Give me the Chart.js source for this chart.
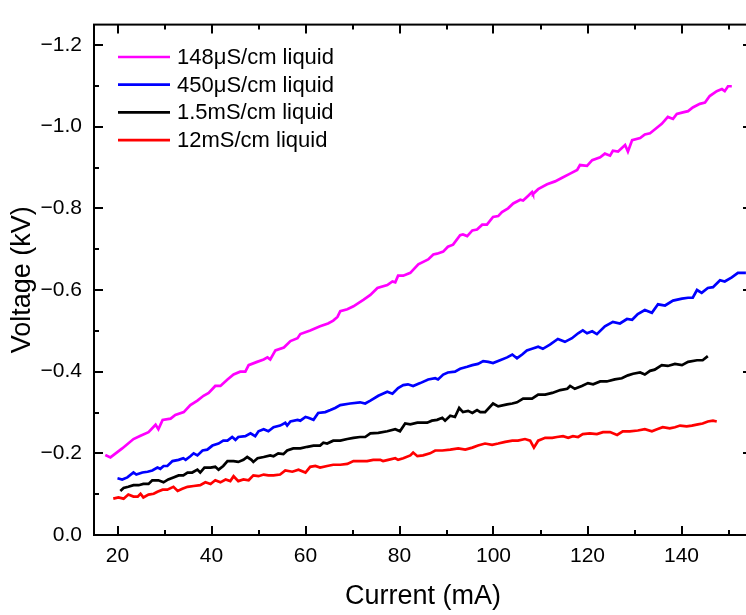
<!DOCTYPE html>
<html>
<head>
<meta charset="utf-8">
<script src="https://cdn.jsdelivr.net/npm/chart.js@4.4.1/dist/chart.umd.min.js"></script>
<style>
    html, body { margin: 0; padding: 0; background: #fff; overflow: hidden; }
    #wrap { width: 760px; height: 615px; }
</style>
</head>
<body>
<div id="wrap"><canvas id="chart" width="760" height="615"></canvas></div>
<script>
// Series data (current in mA, voltage in kV)
const labels = ['148μS/cm liquid', '450μS/cm liquid', '1.5mS/cm liquid', '12mS/cm liquid'];
const colors = ['#ff00ff', '#0000ff', '#000000', '#ff0000'];

const magentaCurrent = [17.4, 18.5, 21.0, 23.4, 24.9, 26.6, 28.1, 28.7, 29.6, 31.3, 32.3, 34.1, 35.5, 37.0, 38.3, 39.4, 40.8, 41.9, 43.4, 44.7, 46.1, 47.2, 47.9, 49.7, 51.1, 51.9, 52.5, 53.6, 55.4, 56.8, 58.3, 58.9, 61.0, 63.1, 64.8, 65.9, 66.8, 67.4, 68.9, 70.2, 72.3, 73.8, 75.3, 77.4, 78.5, 79.1, 79.7, 80.8, 82.3, 84.0, 86.1, 87.2, 88.0, 89.3, 90.3, 91.4, 92.9, 93.5, 94.4, 95.5, 96.5, 97.6, 98.6, 99.9, 101.0, 101.8, 103.1, 104.2, 105.7, 106.3, 107.4, 108.2, 108.4, 109.5, 111.4, 113.1, 114.6, 116.3, 117.8, 118.4, 119.9, 121.0, 122.7, 123.7, 124.8, 125.4, 126.5, 128.0, 128.6, 129.5, 131.2, 132.2, 133.3, 134.3, 135.8, 137.1, 138.2, 139.0, 140.3, 141.4, 142.4, 143.9, 145.0, 146.0, 147.5, 148.6, 149.2, 149.9, 150.7];
const magentaVoltage = [-0.196, -0.190, -0.212, -0.235, -0.243, -0.252, -0.270, -0.259, -0.282, -0.285, -0.294, -0.301, -0.318, -0.329, -0.341, -0.348, -0.365, -0.365, -0.381, -0.393, -0.400, -0.400, -0.416, -0.424, -0.430, -0.435, -0.430, -0.452, -0.459, -0.475, -0.482, -0.492, -0.501, -0.511, -0.518, -0.525, -0.534, -0.548, -0.553, -0.560, -0.576, -0.588, -0.605, -0.612, -0.621, -0.619, -0.635, -0.635, -0.642, -0.663, -0.675, -0.687, -0.689, -0.694, -0.706, -0.711, -0.734, -0.736, -0.732, -0.746, -0.748, -0.760, -0.760, -0.779, -0.781, -0.791, -0.800, -0.812, -0.821, -0.819, -0.831, -0.840, -0.835, -0.847, -0.859, -0.866, -0.875, -0.885, -0.894, -0.906, -0.904, -0.918, -0.925, -0.934, -0.929, -0.941, -0.939, -0.955, -0.939, -0.967, -0.972, -0.981, -0.984, -0.993, -1.007, -1.024, -1.019, -1.031, -1.035, -1.038, -1.047, -1.056, -1.059, -1.075, -1.087, -1.092, -1.087, -1.099, -1.099];

const blueCurrent = [20.0, 21.0, 22.1, 23.4, 24.0, 25.3, 26.4, 27.4, 28.5, 29.1, 29.8, 30.6, 31.7, 33.0, 34.0, 34.5, 35.5, 36.2, 37.0, 38.1, 39.1, 40.2, 41.5, 42.5, 43.4, 44.4, 45.1, 45.7, 47.2, 48.3, 49.3, 50.0, 51.1, 52.1, 53.2, 54.6, 55.7, 56.1, 56.8, 58.3, 58.9, 60.0, 60.6, 61.7, 62.7, 64.2, 65.3, 66.3, 67.4, 69.5, 71.6, 72.7, 73.8, 75.5, 77.4, 78.5, 79.7, 80.8, 81.8, 82.9, 84.4, 86.1, 87.6, 88.2, 89.3, 90.3, 91.8, 92.9, 94.4, 95.5, 96.7, 97.8, 98.9, 99.9, 101.4, 102.9, 104.0, 105.0, 106.1, 107.1, 108.2, 109.5, 110.5, 112.0, 113.7, 115.2, 116.7, 118.0, 119.0, 119.9, 121.0, 122.0, 123.7, 125.4, 126.9, 128.4, 129.5, 130.7, 132.2, 133.7, 135.0, 136.5, 138.2, 140.1, 141.4, 142.4, 143.3, 144.3, 145.6, 146.7, 148.2, 149.2, 150.7, 152.0, 153.7];
const blueVoltage = [-0.139, -0.136, -0.141, -0.153, -0.148, -0.153, -0.155, -0.158, -0.165, -0.162, -0.169, -0.169, -0.181, -0.184, -0.188, -0.184, -0.193, -0.200, -0.195, -0.207, -0.209, -0.219, -0.224, -0.231, -0.231, -0.240, -0.233, -0.240, -0.242, -0.249, -0.242, -0.254, -0.259, -0.254, -0.264, -0.268, -0.275, -0.268, -0.278, -0.282, -0.280, -0.289, -0.287, -0.282, -0.299, -0.301, -0.306, -0.311, -0.318, -0.322, -0.325, -0.322, -0.329, -0.341, -0.351, -0.346, -0.360, -0.367, -0.369, -0.365, -0.372, -0.381, -0.384, -0.381, -0.393, -0.398, -0.400, -0.407, -0.412, -0.416, -0.419, -0.426, -0.424, -0.421, -0.428, -0.435, -0.442, -0.433, -0.442, -0.452, -0.456, -0.461, -0.456, -0.466, -0.480, -0.473, -0.482, -0.494, -0.501, -0.494, -0.499, -0.492, -0.511, -0.522, -0.518, -0.529, -0.527, -0.541, -0.551, -0.544, -0.565, -0.562, -0.574, -0.579, -0.581, -0.581, -0.600, -0.593, -0.605, -0.607, -0.624, -0.621, -0.631, -0.642, -0.642];

const blackCurrent = [20.6, 21.3, 22.3, 23.4, 24.5, 25.5, 26.6, 27.4, 28.7, 29.8, 30.8, 31.9, 33.0, 34.0, 34.9, 35.9, 37.0, 37.6, 38.5, 39.8, 40.8, 41.5, 42.5, 43.4, 44.7, 45.7, 46.8, 47.6, 48.5, 48.9, 49.8, 51.1, 52.5, 53.2, 54.2, 55.3, 56.1, 57.4, 58.9, 60.4, 61.7, 63.1, 63.8, 64.6, 65.9, 67.4, 68.9, 70.2, 71.6, 72.7, 73.8, 75.5, 77.4, 79.1, 80.1, 81.2, 82.3, 83.8, 84.8, 85.9, 86.9, 88.0, 89.1, 89.7, 90.8, 91.8, 92.7, 93.5, 94.6, 95.5, 96.5, 97.2, 98.2, 99.9, 101.0, 102.9, 104.0, 105.0, 106.3, 108.2, 109.5, 111.0, 112.5, 114.2, 115.7, 116.3, 117.3, 118.8, 120.1, 121.2, 122.7, 124.1, 125.8, 127.3, 128.6, 129.7, 131.2, 132.2, 133.3, 134.3, 135.8, 137.1, 138.6, 140.1, 141.4, 143.3, 144.5, 145.6];
const blackVoltage = [-0.108, -0.115, -0.118, -0.122, -0.122, -0.125, -0.125, -0.134, -0.134, -0.129, -0.136, -0.141, -0.146, -0.146, -0.153, -0.153, -0.160, -0.153, -0.165, -0.165, -0.167, -0.160, -0.169, -0.181, -0.181, -0.179, -0.184, -0.191, -0.184, -0.179, -0.188, -0.191, -0.195, -0.193, -0.200, -0.198, -0.207, -0.212, -0.212, -0.216, -0.219, -0.219, -0.226, -0.224, -0.231, -0.231, -0.235, -0.238, -0.240, -0.240, -0.249, -0.250, -0.254, -0.259, -0.254, -0.273, -0.271, -0.275, -0.275, -0.275, -0.280, -0.282, -0.287, -0.280, -0.292, -0.289, -0.311, -0.301, -0.304, -0.299, -0.306, -0.301, -0.301, -0.322, -0.315, -0.320, -0.322, -0.325, -0.334, -0.334, -0.344, -0.344, -0.348, -0.355, -0.358, -0.365, -0.358, -0.365, -0.372, -0.369, -0.376, -0.376, -0.381, -0.384, -0.391, -0.395, -0.398, -0.393, -0.402, -0.405, -0.416, -0.414, -0.419, -0.416, -0.424, -0.428, -0.428, -0.438];

const redCurrent = [19.1, 20.2, 21.3, 22.3, 23.4, 24.3, 24.9, 25.5, 26.6, 27.7, 28.5, 29.6, 30.6, 31.9, 32.8, 33.8, 34.9, 36.2, 37.6, 38.7, 39.8, 40.8, 41.9, 43.0, 44.0, 44.7, 45.7, 46.8, 47.9, 48.9, 50.0, 51.1, 52.1, 53.2, 54.6, 55.7, 57.2, 58.5, 60.0, 61.0, 62.1, 63.1, 64.6, 65.9, 67.4, 68.9, 70.2, 71.6, 73.1, 74.4, 75.9, 76.5, 77.6, 79.1, 79.7, 80.8, 82.3, 82.9, 83.8, 85.0, 86.5, 87.6, 89.1, 90.8, 92.5, 94.0, 95.5, 96.7, 98.2, 99.7, 101.0, 102.5, 104.0, 105.2, 106.7, 107.8, 108.6, 109.5, 111.0, 112.5, 113.5, 114.8, 115.9, 116.9, 118.0, 119.0, 120.5, 122.0, 123.3, 124.8, 126.3, 127.5, 129.0, 130.7, 132.2, 133.7, 134.8, 136.0, 137.5, 138.6, 139.7, 141.1, 142.2, 143.5, 144.5, 145.6, 146.7, 147.5];
const redVoltage = [-0.089, -0.092, -0.089, -0.099, -0.094, -0.094, -0.101, -0.092, -0.099, -0.101, -0.106, -0.111, -0.111, -0.118, -0.108, -0.113, -0.118, -0.120, -0.122, -0.129, -0.125, -0.134, -0.129, -0.136, -0.132, -0.144, -0.132, -0.136, -0.134, -0.146, -0.144, -0.148, -0.146, -0.146, -0.148, -0.158, -0.155, -0.160, -0.153, -0.167, -0.169, -0.165, -0.169, -0.172, -0.172, -0.174, -0.181, -0.181, -0.181, -0.184, -0.184, -0.181, -0.184, -0.188, -0.184, -0.188, -0.195, -0.202, -0.193, -0.195, -0.200, -0.207, -0.207, -0.209, -0.212, -0.209, -0.214, -0.219, -0.224, -0.221, -0.224, -0.228, -0.231, -0.231, -0.235, -0.231, -0.214, -0.231, -0.238, -0.238, -0.240, -0.242, -0.238, -0.242, -0.240, -0.247, -0.249, -0.247, -0.252, -0.252, -0.245, -0.254, -0.254, -0.256, -0.259, -0.254, -0.259, -0.264, -0.261, -0.264, -0.268, -0.266, -0.268, -0.271, -0.273, -0.278, -0.280, -0.278];

// Axis ticks
const xMajorTicks = [20, 40, 60, 80, 100, 120, 140];
const xMinorTicks = [30, 50, 70, 90, 110, 130, 150];
const yMajorTicks = [0, -0.2, -0.4, -0.6, -0.8, -1.0, -1.2];
const yMinorTicks = [-0.1, -0.3, -0.5, -0.7, -0.9, -1.1];

const FONT = "'Liberation Sans', Arial, sans-serif";

function toPoints(xs, ys) {
    return xs.map((x, i) => ({ x: x, y: ys[i] }));
}

const series = [
    [magentaCurrent, magentaVoltage],
    [blueCurrent, blueVoltage],
    [blackCurrent, blackVoltage],
    [redCurrent, redVoltage]
];

// Box + inward ticks on all four sides
const frameTicks = {
    id: 'frameTicks',
    afterDatasetsDraw(chart) {
        const { ctx, chartArea: a, scales: { x, y } } = chart;
        ctx.save();
        ctx.strokeStyle = '#000';
        ctx.lineWidth = 2;
        ctx.strokeRect(a.left, a.top, a.right - a.left, a.bottom - a.top);

        const tickX = (vals, len) => {
            vals.forEach(v => {
                const px = Math.round(x.getPixelForValue(v));
                ctx.beginPath();
                ctx.moveTo(px, a.bottom); ctx.lineTo(px, a.bottom - len);
                ctx.moveTo(px, a.top); ctx.lineTo(px, a.top + len);
                ctx.stroke();
            });
        };
        const tickY = (vals, len) => {
            vals.forEach(v => {
                const py = Math.round(y.getPixelForValue(v));
                ctx.beginPath();
                ctx.moveTo(a.left, py); ctx.lineTo(a.left + len, py);
                ctx.moveTo(a.right, py); ctx.lineTo(a.right - len, py);
                ctx.stroke();
            });
        };
        tickX(xMajorTicks, 9);
        tickX(xMinorTicks, 5);
        tickY(yMajorTicks, 9);
        tickY(yMinorTicks, 5);
        ctx.restore();
    }
};

// Legend in the upper left corner of the plot
const innerLegend = {
    id: 'innerLegend',
    afterDraw(chart) {
        const ctx = chart.ctx;
        ctx.save();
        ctx.font = '22px ' + FONT;
        ctx.textBaseline = 'middle';
        ctx.textAlign = 'left';
        chart.data.datasets.forEach((ds, i) => {
            const yy = 57 + i * 27.7;
            ctx.strokeStyle = ds.borderColor;
            ctx.lineWidth = 2.7;
            ctx.beginPath();
            ctx.moveTo(118, yy);
            ctx.lineTo(170, yy);
            ctx.stroke();
            ctx.fillStyle = '#000';
            ctx.fillText(ds.label, 177, yy + 1);
        });
        ctx.restore();
    }
};

Chart.defaults.font.family = FONT;
Chart.defaults.color = '#000';

new Chart(document.getElementById('chart'), {
    type: 'line',
    data: {
        datasets: series.map((s, i) => ({
            label: labels[i],
            data: toPoints(s[0], s[1]),
            borderColor: colors[i],
            backgroundColor: colors[i],
            borderWidth: 2.7,
            pointRadius: 0,
            tension: 0,
            fill: false
        }))
    },
    options: {
        responsive: false,
        animation: false,
        devicePixelRatio: 1,
        layout: { padding: { left: 0, top: 4, right: 8, bottom: 0 } },
        plugins: {
            legend: { display: false },
            tooltip: { enabled: false }
        },
        scales: {
            x: {
                type: 'linear',
                min: 15,
                max: 155,
                grid: { display: false, drawTicks: false },
                border: { display: false },
                afterBuildTicks: scale => { scale.ticks = xMajorTicks.map(v => ({ value: v })); },
                afterFit: scale => { scale.height = 80; },
                ticks: {
                    padding: 9,
                    font: { size: 21 },
                    callback: v => String(v)
                },
                title: {
                    display: true,
                    text: 'Current (mA)',
                    font: { size: 27 },
                    padding: { top: 0, bottom: 2 }
                }
            },
            y: {
                type: 'linear',
                min: -1.25,
                max: 0,
                reverse: true,
                grid: { display: false, drawTicks: false },
                border: { display: false },
                afterBuildTicks: scale => { scale.ticks = yMajorTicks.map(v => ({ value: v })); },
                afterFit: scale => { scale.width = 94; },
                ticks: {
                    padding: 12,
                    font: { size: 21 },
                    // wider minus sign, as in the original figure
                    callback: v => Number(v).toFixed(1).replace('-', '\u2212')
                },
                title: {
                    display: true,
                    text: 'Voltage (kV)',
                    font: { size: 27 },
                    padding: { top: 6, bottom: 0 }
                }
            }
        }
    },
    plugins: [frameTicks, innerLegend]
});
</script>
</body>
</html>
